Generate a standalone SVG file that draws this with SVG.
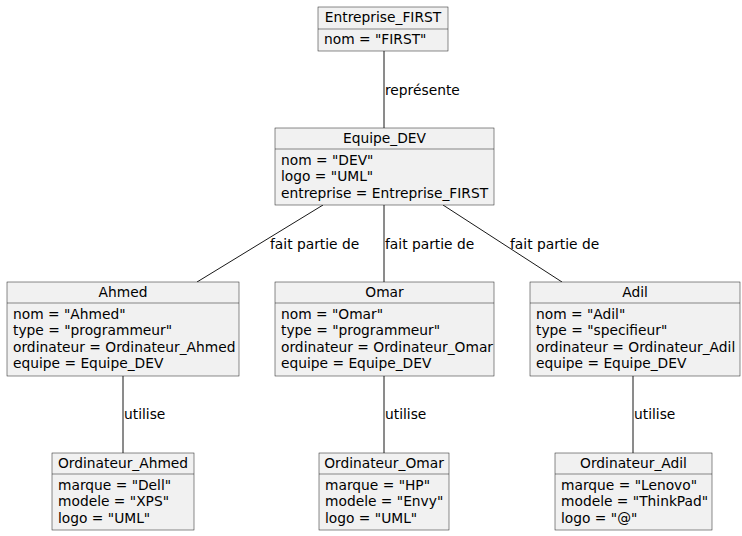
<svg xmlns="http://www.w3.org/2000/svg" width="742" height="536" viewBox="0 0 742 536">
<style>
.box{fill:#F1F1F1;stroke:#181818;stroke-width:0.5}
.div{stroke:#181818;stroke-width:0.5}
.t{font-family:"DejaVu Sans",sans-serif;font-size:13.8px;fill:#000}
.c{text-anchor:middle}
.e{stroke:#181818;stroke-width:1;fill:none}
</style>
<rect width="742" height="536" fill="#fff"/>
<g id="connectors">
<line class="e" x1="384" y1="51" x2="384" y2="128"/>
<text class="t" x="385" y="95">représente</text>
<line class="e" x1="323" y1="205" x2="197" y2="282"/>
<text class="t" x="270" y="249">fait partie de</text>
<line class="e" x1="384" y1="205" x2="384" y2="282"/>
<text class="t" x="385" y="249">fait partie de</text>
<line class="e" x1="443" y1="205" x2="562" y2="282"/>
<text class="t" x="510" y="249">fait partie de</text>
<line class="e" x1="123" y1="376" x2="123" y2="453"/>
<text class="t" x="124" y="419">utilise</text>
<line class="e" x1="384" y1="376" x2="384" y2="453"/>
<text class="t" x="385" y="419">utilise</text>
<line class="e" x1="633" y1="376" x2="633" y2="453"/>
<text class="t" x="634" y="419">utilise</text>
</g>
<g id="Entreprise_FIRST">
<rect class="box" x="318" y="7" width="130" height="44"/>
<line class="div" x1="318" y1="29" x2="448" y2="29"/>
<text class="t c" x="383" y="22">Entreprise_FIRST</text>
<text class="t" x="324" y="44">nom = "FIRST"</text>
</g>
<g id="Equipe_DEV">
<rect class="box" x="275" y="128" width="219" height="77"/>
<line class="div" x1="275" y1="149" x2="494" y2="149"/>
<text class="t c" x="384.5" y="143">Equipe_DEV</text>
<text class="t" x="281" y="165">nom = "DEV"</text>
<text class="t" x="281" y="181">logo = "UML"</text>
<text class="t" x="281" y="198">entreprise = Entreprise_FIRST</text>
</g>
<g id="Ahmed">
<rect class="box" x="7" y="282" width="232" height="94"/>
<line class="div" x1="7" y1="303" x2="239" y2="303"/>
<text class="t c" x="123" y="297">Ahmed</text>
<text class="t" x="13" y="319">nom = "Ahmed"</text>
<text class="t" x="13" y="335">type = "programmeur"</text>
<text class="t" x="13" y="352">ordinateur = Ordinateur_Ahmed</text>
<text class="t" x="13" y="368">equipe = Equipe_DEV</text>
</g>
<g id="Omar">
<rect class="box" x="275" y="282" width="219" height="94"/>
<line class="div" x1="275" y1="303" x2="494" y2="303"/>
<text class="t c" x="384.5" y="297">Omar</text>
<text class="t" x="281" y="319">nom = "Omar"</text>
<text class="t" x="281" y="335">type = "programmeur"</text>
<text class="t" x="281" y="352">ordinateur = Ordinateur_Omar</text>
<text class="t" x="281" y="368">equipe = Equipe_DEV</text>
</g>
<g id="Adil">
<rect class="box" x="530" y="282" width="210" height="94"/>
<line class="div" x1="530" y1="303" x2="740" y2="303"/>
<text class="t c" x="635" y="297">Adil</text>
<text class="t" x="536" y="319">nom = "Adil"</text>
<text class="t" x="536" y="335">type = "specifieur"</text>
<text class="t" x="536" y="352">ordinateur = Ordinateur_Adil</text>
<text class="t" x="536" y="368">equipe = Equipe_DEV</text>
</g>
<g id="Ordinateur_Ahmed">
<rect class="box" x="52" y="453" width="142" height="77"/>
<line class="div" x1="52" y1="474" x2="194" y2="474"/>
<text class="t c" x="123" y="468">Ordinateur_Ahmed</text>
<text class="t" x="58" y="490">marque = "Dell"</text>
<text class="t" x="58" y="506">modele = "XPS"</text>
<text class="t" x="58" y="523">logo = "UML"</text>
</g>
<g id="Ordinateur_Omar">
<rect class="box" x="319" y="453" width="130" height="77"/>
<line class="div" x1="319" y1="474" x2="449" y2="474"/>
<text class="t c" x="384" y="468">Ordinateur_Omar</text>
<text class="t" x="325" y="490">marque = "HP"</text>
<text class="t" x="325" y="506">modele = "Envy"</text>
<text class="t" x="325" y="523">logo = "UML"</text>
</g>
<g id="Ordinateur_Adil">
<rect class="box" x="555" y="453" width="157" height="77"/>
<line class="div" x1="555" y1="474" x2="712" y2="474"/>
<text class="t c" x="633.5" y="468">Ordinateur_Adil</text>
<text class="t" x="561" y="490">marque = "Lenovo"</text>
<text class="t" x="561" y="506">modele = "ThinkPad"</text>
<text class="t" x="561" y="523">logo = "@"</text>
</g>
</svg>
